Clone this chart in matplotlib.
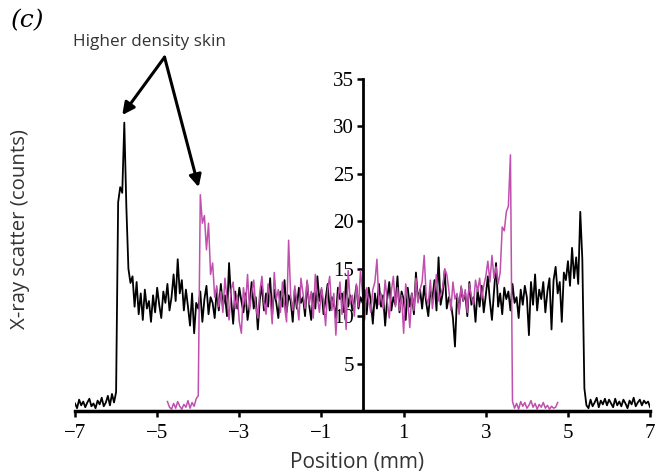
import numpy as np
import matplotlib
matplotlib.use("Agg")
import matplotlib.pyplot as plt

# Perfil de espalhamento de raios X (passo de 0.05 mm)
passo = 0.05
inicio_preto = -7.0
preto = (
    # -7.0 .. -6.0 (fora da amostra)
    [0.8, 0.3, 1.2, 0.6, 1.0, 0.4, 0.9, 1.3, 0.5, 0.8, 0.3, 1.1, 0.7, 1.4, 0.5, 0.9, 1.6, 0.6, 1.8, 0.9, 2.0]
    # -5.95 .. -5.65 (pele de maior densidade)
    + [22.0, 23.6, 23.0, 30.4, 21.5, 15.0, 13.5]
    # -5.6 .. -4.05
    + [14.2, 11.0, 13.6, 10.2, 12.4, 9.6, 12.8, 10.8, 11.6, 9.4,
       12.2, 10.4, 13.0, 11.2, 9.8, 12.6, 11.4, 13.4, 10.6, 12.0,
       14.4, 11.6, 16.0, 12.4, 13.8, 10.6, 12.8, 11.0, 9.0, 12.4,
       8.2, 11.4]
    # -4.0 .. -0.05
    + [10.8, 12.6, 9.4, 11.8, 13.2, 10.2, 12.0, 11.4, 9.8, 12.8,
       10.6, 13.4, 11.0, 12.2, 10.0, 15.6, 11.8, 9.2, 12.6, 10.8,
       13.0, 11.6, 10.4, 12.4, 9.6, 11.2, 13.6, 10.8, 12.0, 8.6,
       11.8, 13.2, 10.6, 12.4, 11.0, 14.0, 10.2, 12.8, 11.4, 9.8,
       12.6, 11.0, 13.8, 10.4, 12.2, 11.6, 9.4, 12.8, 10.8, 13.0,
       11.4, 12.0, 10.0, 13.6, 11.2, 9.6, 12.4, 10.8, 14.2, 11.6,
       12.8, 10.2, 11.8, 13.4, 10.6, 12.0, 11.4, 9.8, 13.0, 11.8,
       12.4, 10.4, 13.8, 11.0, 12.2, 10.6, 11.6, 13.2, 10.8, 12.0]
    # 0.0 .. 3.95
    + [11.4, 12.8, 10.2, 13.0, 11.6, 9.2, 12.4, 10.8, 13.4, 11.0,
       12.2, 9.0, 11.8, 13.6, 10.6, 12.0, 11.2, 14.2, 10.4, 12.6,
       11.8, 9.6, 13.0, 11.0, 12.4, 10.2, 14.6, 11.6, 12.8, 10.8,
       13.2, 11.4, 10.0, 12.6, 11.8, 13.8, 10.6, 16.2, 11.2, 12.4,
       14.8, 10.8, 12.0, 11.4, 9.8, 6.8, 12.2, 10.6, 13.0, 11.6,
       12.4, 10.0, 13.6, 11.2, 12.0, 9.4, 12.8, 11.0, 13.2, 10.4,
       12.2, 14.2, 11.6, 9.6, 12.6, 15.6, 11.0, 12.4, 10.2, 13.0,
       11.8, 12.6, 10.6, 13.4, 11.4, 12.0, 9.8, 12.8, 11.2, 13.2]
    # 4.0 .. 4.95
    + [12.0, 8.0, 13.6, 11.2, 14.4, 10.6, 12.8, 11.8, 13.6, 10.4,
       12.6, 14.0, 8.6, 13.8, 15.2, 12.4, 13.6, 9.4, 14.6, 13.8]
    # 5.0 .. 5.45
    + [15.8, 13.2, 17.2, 14.0, 16.2, 13.4, 21.0, 16.0, 2.4, 0.6]
    # 5.5 .. 7.0
    + [0.3, 1.2, 0.5, 0.9, 1.4, 0.4, 1.1, 0.7, 1.3, 0.6,
       1.2, 0.8, 0.4, 1.3, 0.6, 1.0, 0.5, 1.2, 0.8, 0.3,
       1.1, 0.7, 1.4, 0.5, 0.9, 1.2, 0.6, 1.1, 0.8, 1.0, 0.4]
)

inicio_magenta = -4.75
magenta = (
    # -4.75 .. -4.0
    [1.0, 0.4, 0.2, 0.8, 0.3, 1.0, 0.5, 0.2, 0.7, 0.4, 1.1, 0.3, 0.9, 0.5, 1.3, 1.6]
    # -3.95 .. -3.6
    + [22.8, 19.8, 20.6, 17.0, 19.8, 14.4, 15.6, 12.0]
    # -3.55 .. 2.95
    + [13.2, 11.0, 12.6, 10.4, 14.0, 11.8, 9.6, 12.8, 13.6, 10.8,
       12.2, 9.4, 8.2, 13.0, 11.2, 14.4, 10.6, 12.4, 13.8, 11.0,
       9.8, 12.6, 14.2, 11.4, 10.2, 13.4, 12.0, 9.2, 14.6, 11.8,
       12.8, 10.4, 13.6, 11.0, 9.4, 18.0, 12.2, 10.6, 13.2, 11.4,
       9.6, 14.0, 12.4, 10.8, 13.8, 11.2, 12.6, 9.8, 14.4, 12.0,
       10.4, 13.0, 11.6, 9.0, 12.8, 14.2, 10.6, 12.4, 8.0, 11.8,
       13.6, 10.2, 12.6, 8.6, 14.8, 11.4, 12.2, 10.0, 13.4, 11.0,
       14.8, 12.4, 9.6, 13.0, 11.6, 10.4, 12.8, 13.6, 16.0, 11.2,
       12.4, 10.8, 13.8, 11.6, 9.8, 12.6, 14.2, 11.0, 13.0, 10.6,
       12.2, 8.2, 13.4, 11.8, 8.8, 12.4, 10.6, 14.0, 11.4, 12.8,
       13.6, 16.4, 12.0, 11.2, 13.8, 10.8, 12.6, 14.4, 11.6, 12.2,
       13.0, 15.0, 14.4, 12.8, 10.6, 13.6, 11.8, 12.4, 10.2, 13.2,
       11.6, 12.8, 10.4, 13.4, 12.0, 11.2, 13.8, 12.6, 14.0, 11.8, 13.2]
    # 3.0 .. 3.65
    + [14.2, 15.8, 13.6, 16.4, 14.0, 15.2, 13.4, 14.6, 19.4, 19.0, 21.0, 21.6, 27.0, 1.0]
    # 3.7 .. 4.75
    + [0.3, 0.8, 0.2, 1.0, 0.5, 0.9, 0.3, 0.6, 1.1, 0.4, 0.8,
       0.2, 0.7, 0.4, 0.9, 0.3, 0.6, 0.2, 0.5, 0.3, 0.4, 0.9]
)

assert len(preto) == 281, len(preto)
assert len(magenta) == 191, len(magenta)

x_preto = inicio_preto + passo * np.arange(len(preto))
x_magenta = inicio_magenta + passo * np.arange(len(magenta))

fig = plt.figure(figsize=(6.58, 4.73), dpi=100)
ax = fig.add_axes([0.114, 0.131, 0.874, 0.702])

ax.plot(x_preto, preto, color="black", linewidth=1.3)
ax.plot(x_magenta, magenta, color="#c04fae", linewidth=1.1)

ax.set_xlim(-7, 7)
ax.set_ylim(0, 35)

# Eixo y no centro (posição 0)
ax.spines["left"].set_position(("data", 0))
ax.spines["left"].set_linewidth(2)
ax.spines["bottom"].set_linewidth(2.5)
ax.spines["top"].set_visible(False)
ax.spines["right"].set_visible(False)

ax.set_xticks([-7, -5, -3, -1, 1, 3, 5, 7])
ax.set_yticks([5, 10, 15, 20, 25, 30, 35])
ax.tick_params(axis="both", direction="out", length=4, width=1.8)
ax.tick_params(axis="x", pad=5)
ax.tick_params(axis="y", pad=2)
for lab in ax.get_xticklabels() + ax.get_yticklabels():
    lab.set_fontfamily("Liberation Serif")
    lab.set_fontsize(15)

fig.text(0.543, 0.0, "Position (mm)", fontsize=15, color="#333333",
         family="Open Sans", ha="center", va="bottom")
fig.text(0.03, 0.516, "X-ray scatter (counts)", fontsize=14.7, color="#333333",
         family="Open Sans", ha="center", va="center", rotation=90)
fig.text(0.016, 0.98, "(c)", fontsize=18, style="italic", family="DejaVu Serif",
         ha="left", va="top")

# Anotação com as duas setas
ax.text(-5.19, 38.9, "Higher density skin", fontsize=12.3, color="#333333",
        family="Open Sans", ha="center", va="center", clip_on=False)
origem = (-4.82, 37.3)
for alvo in [(-5.85, 31.2), (-3.99, 23.6)]:
    ax.annotate("", xy=alvo, xytext=origem,
                arrowprops=dict(arrowstyle="-|>", color="black", lw=2.2,
                                mutation_scale=18, shrinkA=0, shrinkB=0),
                annotation_clip=False)

fig.savefig("out.png", dpi=100)
